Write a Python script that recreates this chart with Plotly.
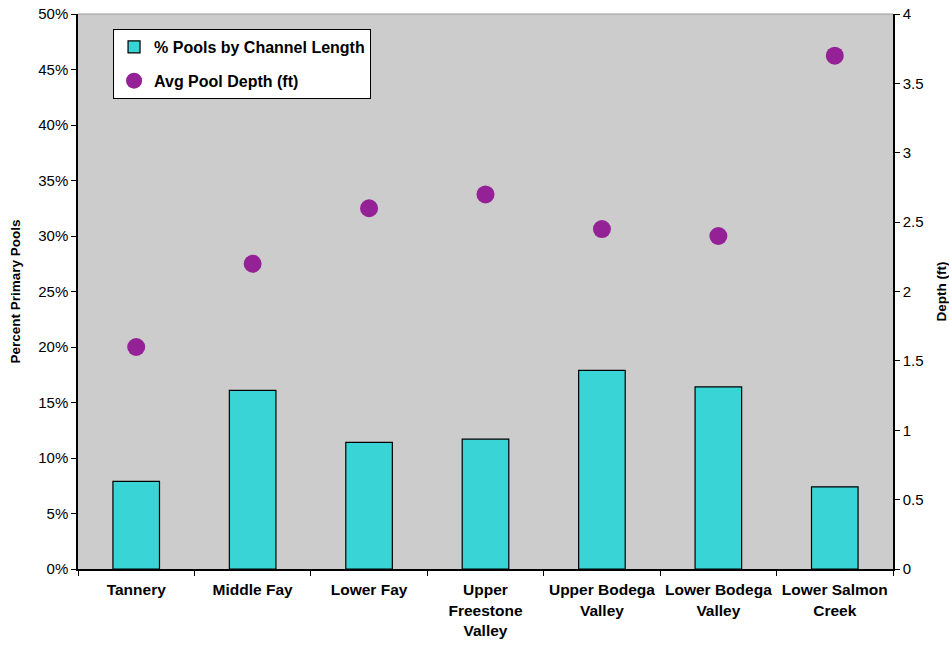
import plotly.graph_objects as go

# Stream reaches and measurements
reaches = ["Tannery", "Middle Fay", "Lower Fay", "Upper<br>Freestone<br>Valley",
           "Upper Bodega<br>Valley", "Lower Bodega<br>Valley", "Lower Salmon<br>Creek"]
pct_pools = [7.9, 16.1, 11.4, 11.7, 17.9, 16.4, 7.4]        # % pools by channel length
avg_depth = [1.6, 2.2, 2.6, 2.7, 2.45, 2.4, 3.7]              # avg pool depth (ft)

pct_ticks = list(range(0, 51, 5))
pct_ticktext = [f"{v}%" for v in pct_ticks]
depth_ticks = [0, 0.5, 1, 1.5, 2, 2.5, 3, 3.5, 4]

FONT = "Liberation Sans, Arial, sans-serif"

fig = go.Figure()
fig.add_trace(go.Bar(
    x=reaches, y=pct_pools, name="% Pools by Channel Length",
    marker=dict(color="#38D4D6", line=dict(color="#000000", width=1.2)),
    width=0.4, legendgroup="a", yaxis="y",
))
fig.add_trace(go.Scatter(
    x=reaches, y=avg_depth, name="Avg Pool Depth (ft)", mode="markers",
    marker=dict(color="#952196", size=18, line=dict(width=0)),
    legendgroup="b", yaxis="y2",
))

tickfont = dict(family=FONT, size=15, color="#000")
fig.update_layout(
    width=949, height=645,
    margin=dict(l=78, r=56, t=14, b=76),
    paper_bgcolor="#FFFFFF", plot_bgcolor="#CCCCCC",
    font=dict(family=FONT, color="#000"),
    showlegend=True,
    legend=dict(
        x=0.043, y=0.973, xanchor="left", yanchor="top",
        bgcolor="#FFFFFF", bordercolor="#000000", borderwidth=1,
        font=dict(family=FONT, size=16, color="#000", weight="bold"),
        traceorder="grouped", tracegroupgap=10,
        itemwidth=30,
    ),
    xaxis=dict(
        type="category", tickson="boundaries", ticks="outside", ticklen=5,
        tickcolor="#000", showline=True, linecolor="#000", linewidth=1.5,
        showgrid=False, zeroline=False, automargin=False,
        tickangle=0, ticklabelstandoff=6,
        tickfont=dict(family=FONT, size=15.5, color="#000", weight="bold"),
        range=[-0.5, 6.5],
    ),
    yaxis=dict(
        range=[0, 50], tickvals=pct_ticks, ticktext=pct_ticktext,
        ticks="outside", ticklen=5, tickcolor="#000",
        showline=True, linecolor="#000", linewidth=1.5,
        showgrid=False, zeroline=False, tickfont=tickfont, automargin=False,
        title=dict(text="Percent Primary Pools", standoff=14,
                   font=dict(family=FONT, size=13.5, color="#000", weight="bold")),
    ),
    yaxis2=dict(
        range=[0, 4], tickvals=depth_ticks, overlaying="y", side="right",
        ticks="outside", ticklen=5, tickcolor="#000",
        showline=True, linecolor="#000", linewidth=1.5,
        showgrid=False, zeroline=False, tickfont=tickfont, automargin=False,
        title=dict(text="Depth (ft)", standoff=14,
                   font=dict(family=FONT, size=13.5, color="#000", weight="bold")),
    ),
    bargap=0.6,
)

# thin top border of the plotting area
fig.add_shape(type="line", xref="paper", yref="paper", x0=0, x1=1, y0=1, y1=1,
              line=dict(color="#999999", width=1))

fig.write_html("out.html")
